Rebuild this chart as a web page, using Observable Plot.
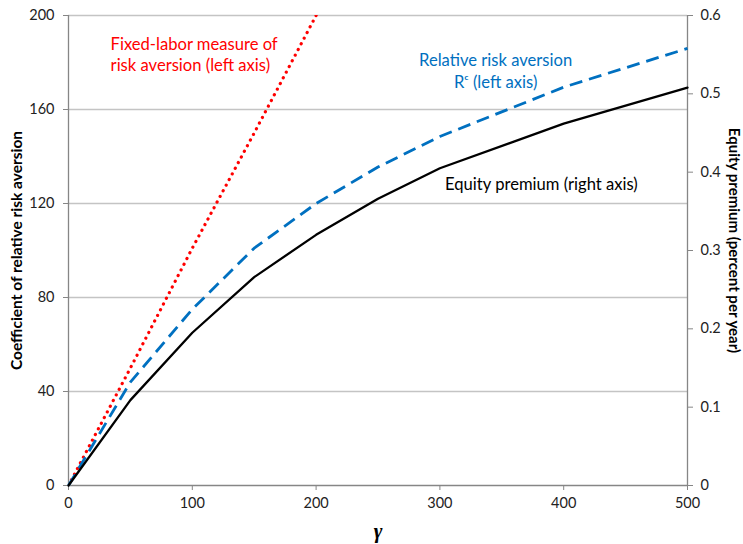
<!DOCTYPE html>
<html>
<head>
<meta charset="utf-8">
<script src="https://cdn.jsdelivr.net/npm/d3@7"></script>
<script src="https://cdn.jsdelivr.net/npm/@observablehq/plot@0.6"></script>
<style>
  html, body { margin: 0; padding: 0; background: #fff; }
  #chart { width: 743px; height: 544px; }
</style>
</head>
<body>
<div id="chart"></div>
<script>
// ---- data ----
const gamma = [0, 50, 100, 150, 200, 250, 300, 400, 500];
const equityPremium = [0, 0.109, 0.195, 0.266, 0.320, 0.366, 0.405, 0.462, 0.508]; // right axis
const relativeRiskAversion = [0, 44, 75, 101, 120, 135.5, 148.5, 169.5, 186];       // left axis
const fixedLaborGamma = [0, 50, 100, 150, 200];
const fixedLaborRiskAversion = [0, 50, 101, 150, 200];                               // left axis

const xTicks = [0, 100, 200, 300, 400, 500];
const leftTicks = [0, 40, 80, 120, 160, 200];
const rightTicks = [0, 0.1, 0.2, 0.3, 0.4, 0.5, 0.6];

const leftMax = 200, rightMax = 0.6;
const toLeft = v => v * leftMax / rightMax;

const blackSeries = gamma.map((g, i) => ({g, v: toLeft(equityPremium[i])}));
const blueSeries = gamma.map((g, i) => ({g, v: relativeRiskAversion[i]}));
const redSeries = fixedLaborGamma.map((g, i) => ({g, v: fixedLaborRiskAversion[i]}));

const grey = "#868686";
const font = "Lato, 'Open Sans', sans-serif";

const chart = Plot.plot({
  width: 743,
  height: 544,
  marginLeft: 68,
  marginRight: 56,
  marginTop: 15,
  marginBottom: 59,
  style: {fontFamily: font, fontSize: "14px", background: "#fff", color: "#222"},
  x: {domain: [0, 500], axis: null},
  y: {domain: [0, 200], axis: null},
  marks: [
    Plot.gridY(leftTicks.filter(d => d > 0), {stroke: "#c4c4c4", strokeOpacity: 1, strokeWidth: 1.5}),
    Plot.ruleY([0], {stroke: grey, strokeWidth: 1.3}),
    Plot.ruleX([0], {stroke: grey, strokeWidth: 1.3}),
    Plot.ruleX([500], {stroke: grey, strokeWidth: 1.3}),
    Plot.axisY(leftTicks, {anchor: "left", tickSize: 5, tickPadding: 9, stroke: grey, fill: "#222", fontSize: 14.5, label: null}),
    Plot.axisY(rightTicks.map(toLeft), {anchor: "right", tickSize: 5, tickPadding: 8, stroke: grey, fill: "#222", fontSize: 14.5, label: null,
      tickFormat: d => String(+(d * rightMax / leftMax).toFixed(1))}),
    Plot.axisX(xTicks, {anchor: "bottom", tickSize: 5, tickPadding: 7, stroke: grey, fill: "#222", fontSize: 14.5, label: null}),
    Plot.line(redSeries, {x: "g", y: "v", stroke: "#ff0000", strokeWidth: 3.2, strokeDasharray: "0.1 6.3", strokeLinecap: "round", clip: true}),
    Plot.line(blueSeries, {x: "g", y: "v", stroke: "#0070c0", strokeWidth: 2.8, strokeDasharray: "13 7", strokeLinecap: "butt"}),
    Plot.line(blackSeries, {x: "g", y: "v", stroke: "#000", strokeWidth: 2.3}),
    // annotations
    Plot.text(["Fixed-labor measure of\nrisk aversion (left axis)"], {x: 34, y: 183.8, text: d => d, textAnchor: "start", lineAnchor: "middle", lineHeight: 1.3, fill: "#ff0000", fontSize: 16.6}),
    Plot.text(["Relative risk aversion\nR\u1D9C (left axis)"], {x: 345, y: 177, text: d => d, textAnchor: "middle", lineAnchor: "middle", lineHeight: 1.35, fill: "#0070c0", fontSize: 16.6}),
    Plot.text(["Equity premium (right axis)"], {x: 382, y: 128, text: d => d, textAnchor: "middle", lineAnchor: "middle", fill: "#000", fontSize: 16.6}),
    // axis titles
    Plot.text(["Coefficient of relative risk aversion"], {frameAnchor: "left", dx: -51, rotate: -90, text: d => d, fontWeight: "bold", fontSize: 15.5, fill: "#000", textAnchor: "middle", lineAnchor: "middle"}),
    Plot.text(["Equity premium (percent per year)"], {frameAnchor: "right", dx: 46, dy: -10, rotate: 90, text: d => d, fontWeight: "bold", fontSize: 15, fill: "#000", textAnchor: "middle", lineAnchor: "middle"}),
    Plot.text(["\u03B3"], {frameAnchor: "bottom", dy: 46, text: d => d, fontWeight: "bold", fontStyle: "italic", fontFamily: "'Liberation Serif', serif", fontSize: 21, fill: "#000", textAnchor: "middle", lineAnchor: "middle"})
  ]
});
document.getElementById("chart").appendChild(chart);
</script>
</body>
</html>
